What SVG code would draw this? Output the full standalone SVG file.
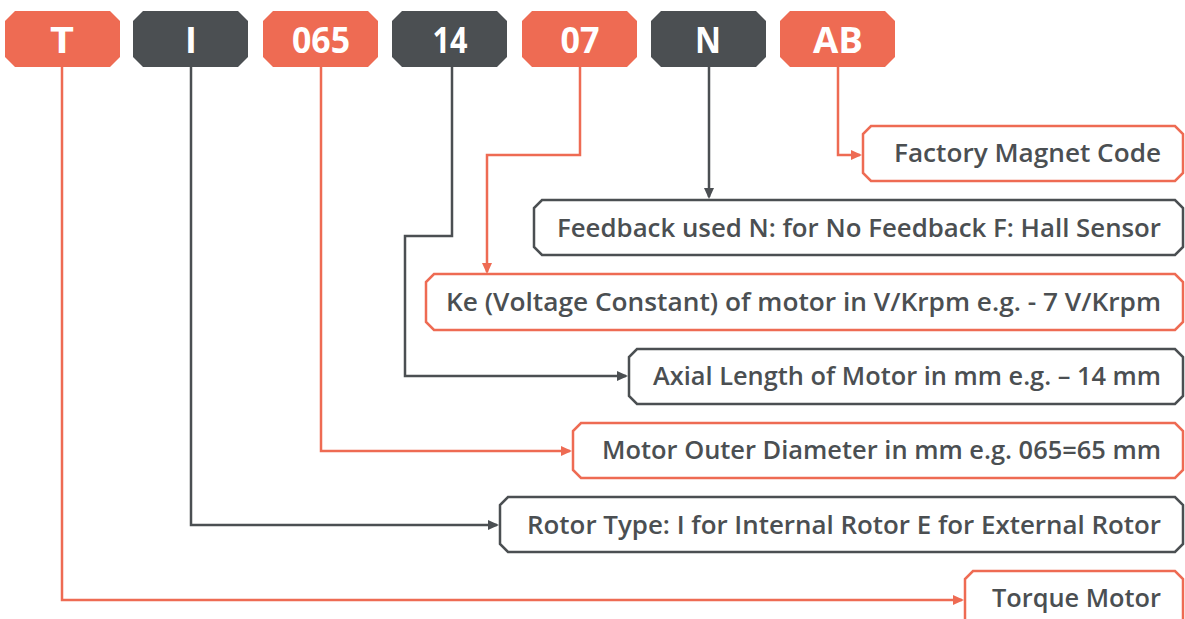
<svg xmlns="http://www.w3.org/2000/svg" width="1185" height="619" viewBox="0 0 1185 619">
<defs>
<style>
.bo{fill:#ee6b53}
.bd{fill:#4b4f52}
.bt{font-family:"Open Sans","Liberation Sans",sans-serif;font-weight:700;font-size:36px;fill:#ffffff;text-anchor:middle}
.lo{fill:#ffffff;stroke:#ee6b53;stroke-width:2.5}
.ld{fill:#ffffff;stroke:#4b4f52;stroke-width:2.5}
.lt{font-family:"Open Sans","Liberation Sans",sans-serif;font-weight:600;font-size:25px;fill:#4b4f52;text-anchor:end}
.co{fill:none;stroke:#ee6b53;stroke-width:2.5;marker-end:url(#ao)}
.cd{fill:none;stroke:#4b4f52;stroke-width:2.5;marker-end:url(#ad)}
</style>
<marker id="ao" markerUnits="userSpaceOnUse" markerWidth="12" markerHeight="12" refX="9" refY="6" orient="auto"><path d="M0,1 L11,6 L0,11 Z" fill="#ee6b53"/></marker>
<marker id="ad" markerUnits="userSpaceOnUse" markerWidth="12" markerHeight="12" refX="9" refY="6" orient="auto"><path d="M0,1 L11,6 L0,11 Z" fill="#4b4f52"/></marker>
</defs>
<rect width="1185" height="619" fill="#ffffff"/>

<g id="connectors">
<path class="co" d="M62,67 V600 H962"/>
<path class="cd" d="M191,67 V525 H497"/>
<path class="co" d="M321,67 V451 H570"/>
<path class="cd" d="M452,67 V236 H405 V376 H626"/>
<path class="co" d="M580,67 V155 H487 V272"/>
<path class="cd" d="M709,67 V197"/>
<path class="co" d="M838,67 V155 H860"/>
</g>

<g id="badge-T"><polygon class="bo" points="15,11 110,11 120,21 120,57 110,67 15,67 5,57 5,21"/><text class="bt" x="62" y="53" textLength="24" lengthAdjust="spacingAndGlyphs">T</text></g>
<g id="badge-I"><polygon class="bd" points="143,11 238,11 248,21 248,57 238,67 143,67 133,57 133,21"/><text class="bt" x="191" y="53">I</text></g>
<g id="badge-065"><polygon class="bo" points="273,11 368,11 378,21 378,57 368,67 273,67 263,57 263,21"/><text class="bt" x="321" y="53" textLength="58" lengthAdjust="spacingAndGlyphs">065</text></g>
<g id="badge-14"><polygon class="bd" points="402,11 497,11 507,21 507,57 497,67 402,67 392,57 392,21"/><text class="bt" x="450" y="53" textLength="35" lengthAdjust="spacingAndGlyphs">14</text></g>
<g id="badge-07"><polygon class="bo" points="532,11 627,11 637,21 637,57 627,67 532,67 522,57 522,21"/><text class="bt" x="580" y="53" textLength="39" lengthAdjust="spacingAndGlyphs">07</text></g>
<g id="badge-N"><polygon class="bd" points="661,11 756,11 766,21 766,57 756,67 661,67 651,57 651,21"/><text class="bt" x="708" y="53" textLength="26" lengthAdjust="spacingAndGlyphs">N</text></g>
<g id="badge-AB"><polygon class="bo" points="790,11 885,11 895,21 895,57 885,67 790,67 780,57 780,21"/><text class="bt" x="838" y="53" textLength="50" lengthAdjust="spacingAndGlyphs">AB</text></g>

<g id="label-factory"><polygon class="lo" points="871,126 1175,126 1183,134 1183,173 1175,181 871,181 863,173 863,134"/><text class="lt" x="1161" y="162" textLength="267" lengthAdjust="spacingAndGlyphs">Factory Magnet Code</text></g>
<g id="label-feedback"><polygon class="ld" points="542,200 1175,200 1183,208 1183,247 1175,255 542,255 534,247 534,208"/><text class="lt" x="1161" y="237" textLength="604" lengthAdjust="spacingAndGlyphs">Feedback used N: for No Feedback F: Hall Sensor</text></g>
<g id="label-ke"><polygon class="lo" points="434,274 1175,274 1183,282 1183,322 1175,330 434,330 426,322 426,282"/><text class="lt" x="1161" y="311" textLength="715" lengthAdjust="spacingAndGlyphs">Ke (Voltage Constant) of motor in V/Krpm e.g. - 7 V/Krpm</text></g>
<g id="label-axial"><polygon class="ld" points="637,349 1175,349 1183,357 1183,396 1175,404 637,404 629,396 629,357"/><text class="lt" x="1161" y="385" textLength="508" lengthAdjust="spacingAndGlyphs">Axial Length of Motor in mm e.g. – 14 mm</text></g>
<g id="label-diameter"><polygon class="lo" points="581,423 1175,423 1183,431 1183,470 1175,478 581,478 573,470 573,431"/><text class="lt" x="1161" y="459" textLength="559" lengthAdjust="spacingAndGlyphs">Motor Outer Diameter in mm e.g. 065=65 mm</text></g>
<g id="label-rotor"><polygon class="ld" points="508,497 1175,497 1183,505 1183,544 1175,552 508,552 500,544 500,505"/><text class="lt" x="1161" y="534" textLength="634" lengthAdjust="spacingAndGlyphs">Rotor Type: I for Internal Rotor E for External Rotor</text></g>
<g id="label-torque"><polygon class="lo" points="973,571 1175,571 1183,579 1183,622 1175,630 973,630 965,622 965,579"/><text class="lt" x="1161" y="607" textLength="169" lengthAdjust="spacingAndGlyphs">Torque Motor</text></g>
</svg>
